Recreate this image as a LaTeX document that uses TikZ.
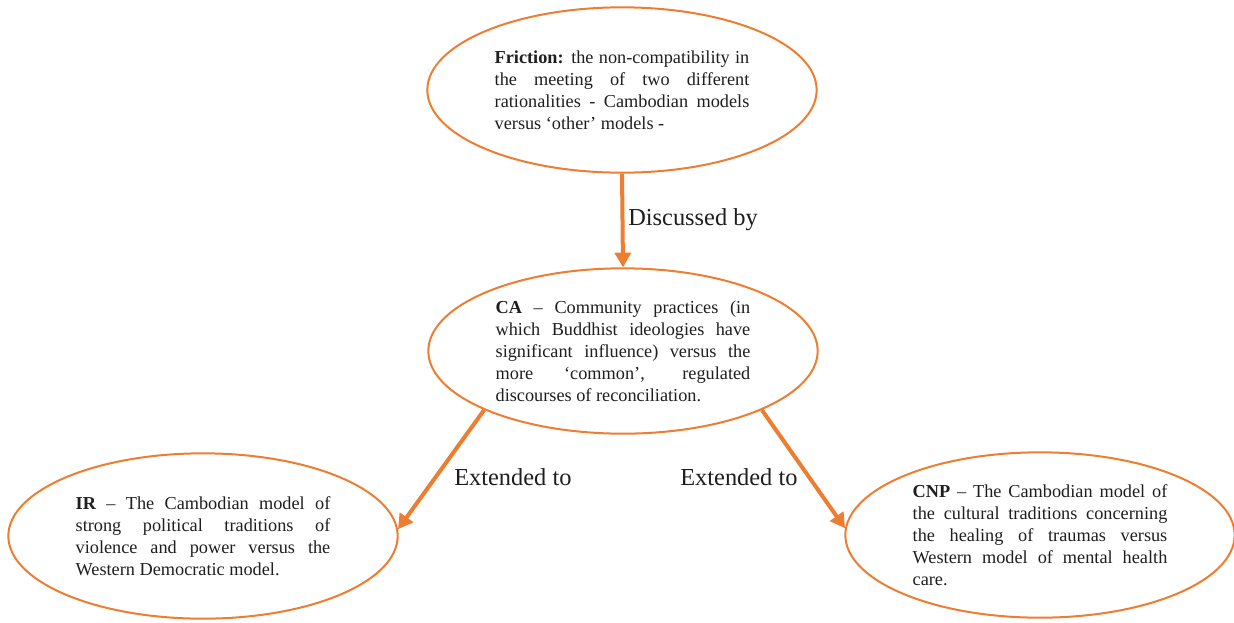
\documentclass[tikz,border=0pt]{standalone}
\usepackage{fontspec}
\setmainfont{Liberation Serif}
\usetikzlibrary{shapes.geometric,arrows.meta}
\definecolor{accent}{RGB}{237,125,49}
\definecolor{ink}{RGB}{30,30,30}
% paragraph settings for the ellipse texts: no hyphenation, breaks only where marked
\newcommand{\blobpar}{\hyphenpenalty=10000 \exhyphenpenalty=10000 \tolerance=10000 \emergencystretch=0pt }
\begin{document}
\begin{tikzpicture}[x=0.75pt,y=-0.75pt,
  blob/.style={ellipse,draw=accent,line width=1.5pt,inner sep=0pt,
    minimum width=292pt,minimum height=124pt,text width=191pt,align=justify,
    text=ink,font=\fontsize{13.7}{16.5}\selectfont},
  conn/.style={draw=accent,line width=3pt,-{Triangle[length=11pt,width=12pt]}},
  lbl/.style={anchor=base west,inner sep=0pt,text=ink,font=\fontsize{18.3}{20}\selectfont}]
\useasboundingbox (0,0) rectangle (1234,622);

% concept ellipses
\node[blob] (fr) at (622,90) {\blobpar\textbf{Friction:} the non-compatibility in\linebreak
  the meeting of two different\linebreak
  rationalities - Cambodian models\linebreak
  versus ‘other’ models -};
\node[blob] (ca) at (623,351) {\blobpar\textbf{CA} – Community practices (in\linebreak
  which Buddhist ideologies have\linebreak
  significant influence) versus the\linebreak
  more ‘common’, regulated\linebreak
  discourses of reconciliation.};
\node[blob] (ir) at (203,536) {\blobpar\textbf{IR} – The Cambodian model of\linebreak
  strong political traditions of\linebreak
  violence and power versus the\linebreak
  Western Democratic model.};
\node[blob] (cnp) at (1040,535) {\blobpar\textbf{CNP} – The Cambodian model of\linebreak
  the cultural traditions concerning\linebreak
  the healing of traumas versus\linebreak
  Western model of mental health\linebreak
  care.};

% connectors
\draw[conn] (fr.south) -- (ca.north);
\draw[conn] (ca.203) -- (ir.2);
\draw[conn] (ca.-23) -- (cnp.178);

% connector labels
\node[lbl] (l1) at (628,225) {Discussed by};
\node[lbl] (l2) at (454,485) {Extended to};
\node[lbl] (l3) at (680,485) {Extended to};
\end{tikzpicture}
\end{document}
